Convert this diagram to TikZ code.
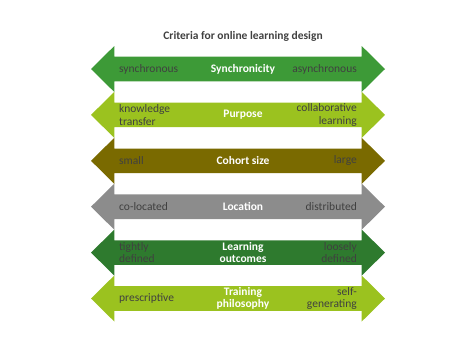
\documentclass[tikz,border=0pt]{standalone}
\usepackage{fontspec}
\setmainfont{Carlito}
\definecolor{cA}{HTML}{3D9A37}
\definecolor{cB}{HTML}{9BC21F}
\definecolor{cC}{HTML}{7A6A00}
\definecolor{cD}{HTML}{8C8C8C}
\definecolor{cE}{HTML}{2E7A2E}
\definecolor{txt}{HTML}{404040}
\newcommand\critarrow[2]{%
  \fill[#2] (91,#1) -- (114.3,#1-23) -- (114.3,#1-12.3) -- (361.7,#1-12.3)
    -- (361.7,#1-23) -- (385,#1) -- (361.7,#1+23) -- (361.7,#1+12.3)
    -- (114.3,#1+12.3) -- (114.3,#1+23) -- cycle;}
\begin{document}
\begin{tikzpicture}[x=1pt,y=-1pt,
  lbl/.style={font=\fontsize{11.5}{12.5}\selectfont, text=txt, inner sep=0pt},
  leftlbl/.style={lbl, anchor=west, align=left},
  rightlbl/.style={lbl, anchor=east, align=right},
  midlbl/.style={font=\fontsize{11.5}{12.5}\selectfont\bfseries, text=white, inner sep=0pt, align=center},
  titlelbl/.style={font=\fontsize{11.5}{13}\selectfont\bfseries, text=txt, inner sep=0pt}]
\useasboundingbox (0,0) rectangle (465,349);
\node[titlelbl] (title) at (243,36) {Criteria for online learning design};
\critarrow{69}{cA}
\critarrow{114.9}{cB}
\critarrow{160.8}{cC}
\critarrow{206.7}{cD}
\critarrow{252.6}{cE}
\critarrow{298.5}{cB}
\node[leftlbl] (l1) at (119,69) {synchronous};
\node[midlbl] (m1) at (243,69) {Synchronicity};
\node[rightlbl] (r1) at (357,69) {asynchronous};
\node[leftlbl] (l2) at (119,114.9) {knowledge\\transfer};
\node[midlbl] (m2) at (243,114.9) {Purpose};
\node[rightlbl] (r2) at (357,114.9) {collaborative\\learning};
\node[leftlbl] (l3) at (119,160.8) {small};
\node[midlbl] (m3) at (243,160.8) {Cohort size};
\node[rightlbl] (r3) at (357,160.8) {large};
\node[leftlbl] (l4) at (119,206.7) {co-located};
\node[midlbl] (m4) at (243,206.7) {Location};
\node[rightlbl] (r4) at (357,206.7) {distributed};
\node[leftlbl] (l5) at (119,252.6) {tightly\\defined};
\node[midlbl] (m5) at (243,252.6) {Learning\\outcomes};
\node[rightlbl] (r5) at (357,252.6) {loosely\\defined};
\node[leftlbl] (l6) at (119,298.5) {prescriptive};
\node[midlbl] (m6) at (243,298.5) {Training\\philosophy};
\node[rightlbl] (r6) at (357,298.5) {self-\\generating};
\end{tikzpicture}
\end{document}
